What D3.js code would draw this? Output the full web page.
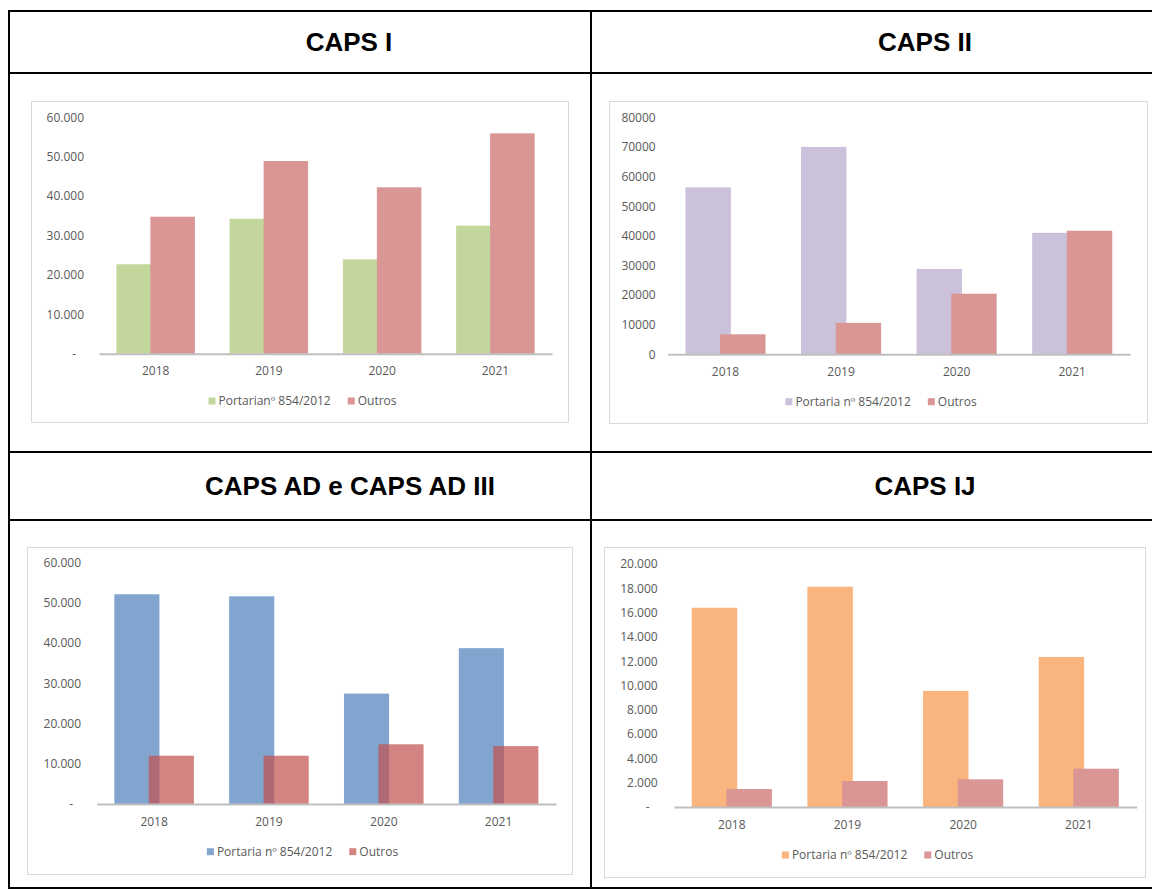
<!DOCTYPE html>
<html>
<head>
<meta charset="utf-8">
<script src="https://cdn.jsdelivr.net/npm/d3@7"></script>
<style>
  body { margin: 0; background: #fff; }
  svg { display: block; }
  .tick text { font-family: "Open Sans", sans-serif; font-size: 12px; fill: #595959; }
  .legend text { font-family: "Open Sans", sans-serif; font-size: 12px; fill: #595959; }
  .title { font-family: "Liberation Sans", Arial, sans-serif; font-size: 26px; font-weight: bold; fill: #000; }
</style>
</head>
<body>
<svg width="1152" height="890"></svg>
<script>

var years = ["2018", "2019", "2020", "2021"];
var titles = ["CAPS I", "CAPS II", "CAPS AD e CAPS AD III", "CAPS IJ"];
var legendCapsI = ["Portarianº 854/2012", "Outros"];
var legendOthers = ["Portaria nº 854/2012", "Outros"];

var capsIPortaria = [22700, 34250, 23950, 32500];
var capsIOutros = [34770, 48900, 42230, 55940];

var capsIIPortaria = [56350, 70000, 28800, 41000];
var capsIIOutros = [6750, 10600, 20450, 41700];

var capsADPortaria = [52150, 51650, 27450, 38750];
var capsADOutros = [12000, 12000, 14850, 14400];

var capsIJPortaria = [16400, 18130, 9550, 12350];
var capsIJOutros = [1480, 2140, 2280, 3150];

var ticksCapsI = [0, 10000, 20000, 30000, 40000, 50000, 60000];
var ticksCapsII = [0, 10000, 20000, 30000, 40000, 50000, 60000, 70000, 80000];
var ticksCapsAD = [0, 10000, 20000, 30000, 40000, 50000, 60000];
var ticksCapsIJ = [0, 2000, 4000, 6000, 8000, 10000, 12000, 14000, 16000, 18000, 20000];

var svg = d3.select("svg");

// formato contabil do Excel: 60.000 e "-" para zero
var ptFormat = d3.formatLocale({ decimal: ",", thousands: ".", grouping: [3], currency: ["R$", ""] }).format(",");
function accounting(d) { return d === 0 ? "-" : ptFormat(d); }
function plain(d) { return d3.format("d")(d); }

// tabela
function line(x1, y1, x2, y2) {
	svg.append("line")
	   .attr("x1", x1).attr("y1", y1).attr("x2", x2).attr("y2", y2)
	   .attr("stroke", "#000").attr("stroke-width", 2);
}
line(8, 11, 1152, 11);
line(8, 73, 1152, 73);
line(8, 452, 1152, 452);
line(8, 520, 1152, 520);
line(8, 888, 1152, 888);
line(9, 10, 9, 889);
line(591, 10, 591, 889);

var titlePos = [[349, 42], [925, 42], [350, 486], [925, 486]];
titles.forEach(function(t, i) {
	svg.append("text")
	   .attr("class", "title")
	   .attr("x", titlePos[i][0]).attr("y", titlePos[i][1])
	   .attr("dy", "0.35em")
	   .attr("text-anchor", "middle")
	   .text(t);
});

var charts = [
	{ frame: [31, 101, 568, 422], ax: [99, 552], zero: 353.7, top: 117.3, labelX: 84, legendY: 401,
	  ticks: ticksCapsI, fmt: accounting, portaria: capsIPortaria, outros: capsIOutros, legend: legendCapsI,
	  colorP: "#c3d69b", colorO: "#d99694", opacityO: 1 },
	{ frame: [609, 101, 1147, 423], ax: [667.7, 1130], zero: 354.3, top: 117.3, labelX: 655.7, legendY: 401.7,
	  ticks: ticksCapsII, fmt: plain, portaria: capsIIPortaria, outros: capsIIOutros, legend: legendOthers,
	  colorP: "#ccc1da", colorO: "#d99694", opacityO: 1 },
	{ frame: [27, 547, 572, 874], ax: [96.7, 556], zero: 804, top: 562.7, labelX: 81, legendY: 851.7,
	  ticks: ticksCapsAD, fmt: accounting, portaria: capsADPortaria, outros: capsADOutros, legend: legendOthers,
	  colorP: "#82a5d0", colorO: "#c0504d", opacityO: 0.7 },
	{ frame: [604, 547, 1145, 877], ax: [674, 1136.6], zero: 807, top: 564, labelX: 657.7, legendY: 855,
	  ticks: ticksCapsIJ, fmt: accounting, portaria: capsIJPortaria, outros: capsIJOutros, legend: legendOthers,
	  colorP: "#fab47e", colorO: "#d99694", opacityO: 1 }
];

charts.forEach(drawChart);

function drawChart(c) {
	var g = svg.append("g");

	g.append("rect")
	 .attr("x", c.frame[0] + 0.5).attr("y", c.frame[1] + 0.5)
	 .attr("width", c.frame[2] - c.frame[0]).attr("height", c.frame[3] - c.frame[1])
	 .attr("fill", "#fff").attr("stroke", "#d9d9d9");

	var x = d3.scaleBand()
			  .domain(years)
			  .range(c.ax)
			  .paddingInner(0.307)
			  .paddingOuter(0.1535);

	var y = d3.scaleLinear()
			  .domain([0, d3.max(c.ticks)])
			  .range([c.zero, c.top]);

	// as duas barras se sobrepoem um pouco (overlap do Excel)
	var w = x.bandwidth() * 0.567;

	g.selectAll(".portaria")
	 .data(c.portaria)
	 .enter().append("rect")
	   .attr("class", "portaria")
	   .attr("x", function(d, i) { return x(years[i]); })
	   .attr("y", function(d) { return y(d); })
	   .attr("width", w)
	   .attr("height", function(d) { return y(0) - y(d); })
	   .attr("fill", c.colorP);

	g.selectAll(".outros")
	 .data(c.outros)
	 .enter().append("rect")
	   .attr("class", "outros")
	   .attr("x", function(d, i) { return x(years[i]) + x.bandwidth() - w; })
	   .attr("y", function(d) { return y(d); })
	   .attr("width", w)
	   .attr("height", function(d) { return y(0) - y(d); })
	   .attr("fill", c.colorO)
	   .attr("fill-opacity", c.opacityO);

	var xAxis = g.append("g")
				 .attr("transform", "translate(0," + c.zero + ")")
				 .call(d3.axisBottom(x).tickSize(0).tickSizeOuter(0).tickPadding(13));
	xAxis.select(".domain").attr("stroke", "#bfbfbf").attr("stroke-width", 2);

	var yAxis = g.append("g")
				 .attr("transform", "translate(" + c.labelX + ",0)")
				 .call(d3.axisLeft(y).tickValues(c.ticks).tickSize(0).tickPadding(0).tickFormat(c.fmt));
	yAxis.select(".domain").remove();
	yAxis.selectAll(".tick text")
		 .attr("dx", function(d) { return (d === 0 && c.fmt === accounting) ? -8 : 0; });

	// legenda centrada no quadro
	var legend = g.append("g").attr("class", "legend");
	var colors = [c.colorP, c.colorO];
	var opac = [1, c.opacityO];
	var pos = 0;
	c.legend.forEach(function(label, i) {
		legend.append("rect")
			  .attr("x", pos).attr("y", c.legendY - 3.5)
			  .attr("width", 7).attr("height", 7)
			  .attr("fill", colors[i]).attr("fill-opacity", opac[i]);
		var t = legend.append("text")
					  .attr("x", pos + 10).attr("y", c.legendY)
					  .attr("dy", "0.35em")
					  .text(label);
		pos += 10 + t.node().getComputedTextLength() + 17;
	});
	var legendWidth = pos - 17;
	var cx = (c.frame[0] + c.frame[2]) / 2 + 3;
	legend.attr("transform", "translate(" + (cx - legendWidth / 2) + ",0)");
}

</script>
</body>
</html>
